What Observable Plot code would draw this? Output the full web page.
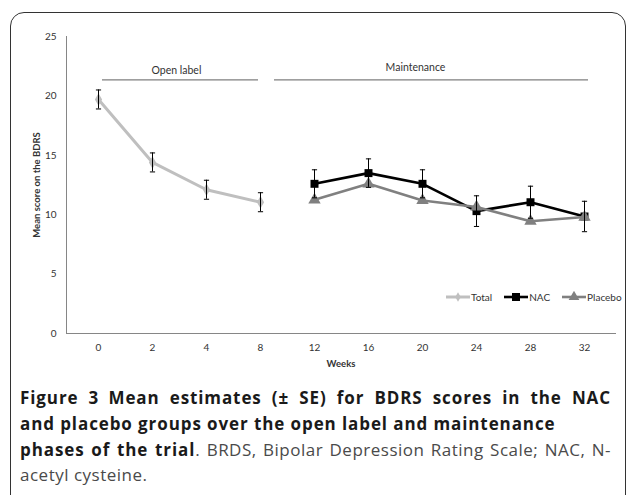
<!DOCTYPE html>
<html>
<head>
<meta charset="utf-8">
<script src="https://cdn.jsdelivr.net/npm/d3@7"></script>
<script src="https://cdn.jsdelivr.net/npm/@observablehq/plot@0.6"></script>
<style>
  html, body { margin: 0; padding: 0; background: #fff; width: 630px; height: 495px; overflow: hidden; }
  #frame { position: absolute; left: 10px; top: 12px; width: 616px; height: 520px; border: 1.5px solid #333; border-radius: 14px; box-sizing: border-box; }
  #chart { position: absolute; left: 0; top: 0; }
  #chart svg text { fill: #333; }
  #legend { position: absolute; top: 291px; left: 446px; font: 10px Lato, sans-serif; color: #333; display: flex; align-items: center; white-space: nowrap; }
  #legend .item { display: flex; align-items: center; margin-right: 3px; }
  #legend svg { display: block; }
  #caption { position: absolute; left: 20px; top: 385px; width: 591px; font-family: "Open Sans", sans-serif; font-size: 17px; line-height: 25.8px; color: #231f20; }
  #caption .ln { display: block; white-space: nowrap; text-align: justify; text-align-last: justify; }
  #caption .ln.last { text-align-last: left; }
  #caption b { font-weight: 700; color: #1a1a1a; letter-spacing: 0.9px; }
  #caption span.r { color: #4a4a4a; letter-spacing: 0.5px; }
</style>
</head>
<body>
<div id="frame"></div>
<div id="chart"></div>
<div id="legend"></div>
<div id="caption"></div>
<script>
// ---- data ----
const weeks = ["0", "2", "4", "8", "12", "16", "20", "24", "28", "32"];
const totalWeeks = ["0", "2", "4", "8"];
const totalMean = [19.7, 14.4, 12.1, 11.05];
const totalSE = [0.8, 0.8, 0.8, 0.8];
const armWeeks = ["12", "16", "20", "24", "28", "32"];
const nacMean = [12.6, 13.5, 12.6, 10.3, 11.05, 9.85];
const nacSE = [1.18, 1.2, 1.18, 1.29, 1.35, 1.28];
const placeboMean = [11.25, 12.6, 11.2, 10.65, 9.45, 9.8];
const yTicks = [0, 5, 10, 15, 20, 25];
const phaseLabels = ["Open label", "Maintenance"];
const phaseStart = ["0", "8"];
const phaseEnd = ["8", "32"];
const phaseLabelWeek = ["2", "20"];
const seriesNames = ["Total", "NAC", "Placebo"];

// ---- tables ----
const total = totalWeeks.map((w, i) => ({week: w, mean: totalMean[i], se: totalSE[i]}));
const nac = armWeeks.map((w, i) => ({week: w, mean: nacMean[i], se: nacSE[i]}));
const placebo = armWeeks.map((w, i) => ({week: w, mean: placeboMean[i]}));
const errors = [...total, ...nac];
const phases = phaseLabels.map((l, i) => ({label: l, start: phaseStart[i], end: phaseEnd[i], at: phaseLabelWeek[i]}));

const cTotal = "#bfbfbf", cNac = "#000000", cPlacebo = "#808080";

// horizontal cap symbol for error bars
const capSymbol = {draw(ctx) { ctx.moveTo(-2.6, 0); ctx.lineTo(2.6, 0); }};

const chart = Plot.plot({
  width: 630,
  height: 375,
  marginLeft: 66,
  marginRight: 15,
  marginTop: 36,
  marginBottom: 42,
  style: {fontFamily: "Lato, sans-serif", fontSize: "10px", color: "#868686", background: "transparent"},
  x: {type: "point", domain: weeks, padding: 0.5, label: null, tickSize: 0, tickPadding: 10, line: true},
  y: {domain: [0, 25], ticks: yTicks, label: null, tickSize: 0, tickPadding: 10, line: true},
  marks: [
    // phase annotations
    Plot.ruleY([phases[0]], {y: 21.35, x1: "start", x2: "end", insetLeft: 4, insetRight: 2, stroke: "#7f7f7f", strokeWidth: 1.3}),
    Plot.ruleY([phases[1]], {y: 21.35, x1: "start", x2: "end", insetLeft: 14, insetRight: -4, stroke: "#7f7f7f", strokeWidth: 1.3}),
    Plot.text([phases[0]], {x: "at", y: 22.1, text: "label", textAnchor: "start", dx: -1, fontSize: 10.5}),
    Plot.text([phases[1]], {x: "at", y: 22.35, text: "label", dx: -7, fontSize: 10.5}),
    // series
    Plot.line(total, {x: "week", y: "mean", stroke: cTotal, strokeWidth: 3}),
    Plot.dot(total, {x: "week", y: "mean", symbol: "diamond", r: 3.8, fill: cTotal}),
    Plot.line(nac, {x: "week", y: "mean", stroke: cNac, strokeWidth: 2.6}),
    Plot.dot(nac, {x: "week", y: "mean", symbol: "square", r: 4.5, fill: cNac}),
    Plot.line(placebo, {x: "week", y: "mean", stroke: cPlacebo, strokeWidth: 2.6}),
    Plot.dot(placebo, {x: "week", y: "mean", symbol: "triangle", r: 4.6, fill: cPlacebo}),
    // error bars
    Plot.ruleX(errors, {x: "week", y1: d => d.mean - d.se, y2: d => d.mean + d.se, stroke: "#000", strokeWidth: 1}),
    Plot.dot(errors, {x: "week", y: d => d.mean + d.se, symbol: capSymbol, stroke: "#000", fill: "none", strokeWidth: 1}),
    Plot.dot(errors, {x: "week", y: d => d.mean - d.se, symbol: capSymbol, stroke: "#000", fill: "none", strokeWidth: 1}),
    // axis titles
    Plot.text(["Weeks"], {frameAnchor: "bottom", text: d => d, dy: 33, fontWeight: "bold", fontSize: 9.5}),
    Plot.text(["Mean score on the BDRS"], {frameAnchor: "left", text: d => d, dx: -30, rotate: -90, textAnchor: "middle", fontWeight: "bold", fontSize: 9.5})
  ]
});
document.getElementById("chart").appendChild(chart);

// ---- legend ----
const legendSpec = [
  {name: seriesNames[0], color: cTotal, symbol: d3.symbolDiamond, size: 26, sw: 3},
  {name: seriesNames[1], color: cNac, symbol: d3.symbolSquare, size: 64, sw: 2.6},
  {name: seriesNames[2], color: cPlacebo, symbol: d3.symbolTriangle, size: 50, sw: 2.6}
];
const legend = document.getElementById("legend");
legendSpec.forEach((s, i) => {
  const item = document.createElement("div");
  item.className = "item";
  if (i > 0) item.style.marginLeft = "9px";
  const svg = d3.create("svg").attr("width", 24).attr("height", 12);
  svg.append("line").attr("x1", 0).attr("x2", 24).attr("y1", 6).attr("y2", 6).attr("stroke", s.color).attr("stroke-width", s.sw);
  svg.append("path").attr("d", d3.symbol(s.symbol, s.size)()).attr("transform", "translate(12,6)").attr("fill", s.color);
  item.appendChild(svg.node());
  const t = document.createElement("span");
  t.textContent = s.name;
  t.style.marginLeft = "1px";
  item.appendChild(t);
  legend.appendChild(item);
});

// ---- caption ----
document.getElementById("caption").innerHTML =
  '<span class="ln"><b>Figure 3</b> <b>Mean estimates (± SE) for BDRS scores in the NAC</b></span>' +
  '<span class="ln last"><b>and placebo groups over the open label and maintenance</b></span>' +
  '<span class="ln"><b>phases of the trial</b><span class="r">. BRDS, Bipolar Depression Rating Scale; NAC, N-</span></span>' +
  '<span class="ln last"><span class="r">acetyl cysteine.</span></span>';
</script>
</body>
</html>
